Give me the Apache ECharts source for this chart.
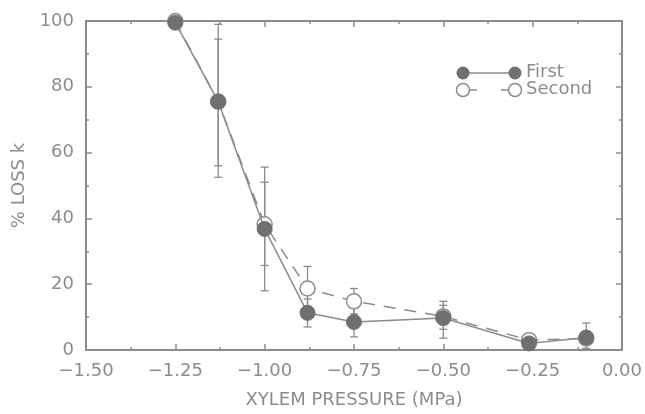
<!DOCTYPE html>
<html>
<head>
<meta charset="utf-8">
<script src="https://cdn.jsdelivr.net/npm/echarts@6/dist/echarts.min.js"></script>
<style>
html, body { margin: 0; padding: 0; background: #fff; }
#chart { width: 645px; height: 414px; }
</style>
</head>
<body>
<div id="chart"></div>
<script>
// pressures (MPa)
const pressure = [-1.25, -1.13, -1.00, -0.88, -0.75, -0.50, -0.26, -0.10];
// first run
const firstLoss = [99.5, 75.5, 36.8, 11.3, 8.5, 9.7, 2.0, 3.8];
const firstLow  = [null, 52.5, 18.0, 7.0, 4.0, 3.6, null, 0.5];
const firstHigh = [null, 99.0, 55.6, 15.5, 13.0, 14.8, null, 8.2];
// second run
const secondLoss = [100, 75.5, 38.2, 18.7, 14.8, 10.2, 3.0, 3.5];
const secondLow  = [null, 56.0, 25.7, 12.0, 11.0, 6.3, null, null];
const secondHigh = [null, 94.5, 51.0, 25.4, 18.7, 13.6, null, null];

const xTicks = { min: -1.5, max: 0, step: 0.25 };
const yTicks = { min: 0, max: 100, step: 20 };

const gray = '#8c8c8c';
const font = 'DejaVu Sans';

function pts(ys) {
  return pressure.map((x, i) => [x, ys[i]]);
}
function bars(low, high) {
  const out = [];
  pressure.forEach((x, i) => {
    if (low[i] != null) out.push([x, low[i], high[i]]);
  });
  return out;
}

function errorItem(params, api) {
  const x = api.value(0);
  const lo = api.coord([x, api.value(1)]);
  const hi = api.coord([x, api.value(2)]);
  const w = 4;
  const st = { stroke: gray, lineWidth: 1.3 };
  return {
    type: 'group',
    children: [
      { type: 'line', shape: { x1: lo[0], y1: lo[1], x2: hi[0], y2: hi[1] }, style: st },
      { type: 'line', shape: { x1: lo[0] - w, y1: lo[1], x2: lo[0] + w, y2: lo[1] }, style: st },
      { type: 'line', shape: { x1: hi[0] - w, y1: hi[1], x2: hi[0] + w, y2: hi[1] }, style: st }
    ]
  };
}

const axisCommon = {
  axisLine: { show: true, onZero: false, lineStyle: { color: gray, width: 2 } },
  axisTick: { show: true, inside: true, length: 6, lineStyle: { color: gray, width: 1.5 } },
  minorTick: { show: true, splitNumber: 2, length: 3, lineStyle: { color: gray, width: 1.5 } },
  splitLine: { show: false }
};

function minusFmt(v) {
  return (v < 0 ? '\u2212' : '') + Math.abs(v).toFixed(2);
}

const chart = echarts.init(document.getElementById('chart'));
chart.setOption({
  animation: false,
  backgroundColor: '#fff',
  grid: { left: 86, right: 22, top: 21, bottom: 62 },
  xAxis: [
    Object.assign({
      type: 'value', position: 'bottom',
      min: xTicks.min, max: xTicks.max, interval: xTicks.step,
      name: 'XYLEM PRESSURE (MPa)', nameLocation: 'middle', nameGap: 41,
      nameTextStyle: { color: gray, fontFamily: font, fontSize: 18 },
      axisLabel: { color: gray, fontFamily: font, fontSize: 18, margin: 12, formatter: minusFmt }
    }, axisCommon),
    Object.assign({
      type: 'value', position: 'top',
      min: xTicks.min, max: xTicks.max, interval: xTicks.step,
      axisLabel: { show: false }
    }, axisCommon)
  ],
  yAxis: [
    Object.assign({
      type: 'value', position: 'left',
      min: yTicks.min, max: yTicks.max, interval: yTicks.step,
      name: '% LOSS k', nameLocation: 'middle', nameGap: 56,
      nameTextStyle: { color: gray, fontFamily: font, fontSize: 18 },
      axisLabel: { color: gray, fontFamily: font, fontSize: 18, margin: 12 }
    }, axisCommon),
    Object.assign({
      type: 'value', position: 'right',
      min: yTicks.min, max: yTicks.max, interval: yTicks.step,
      axisLabel: { show: false }
    }, axisCommon)
  ],
  series: [
    {
      type: 'custom', name: 'secondErr', renderItem: errorItem,
      data: bars(secondLow, secondHigh), z: 1
    },
    {
      type: 'custom', name: 'firstErr', renderItem: errorItem,
      data: bars(firstLow, firstHigh), z: 1
    },
    {
      type: 'line', name: 'Second', data: pts(secondLoss), z: 2,
      symbol: 'circle', symbolSize: 15,
      lineStyle: { color: gray, width: 1.5, type: [12, 9] },
      itemStyle: { color: '#fff', borderColor: gray, borderWidth: 1.5 }
    },
    {
      type: 'line', name: 'First', data: pts(firstLoss), z: 3,
      symbol: 'circle', symbolSize: 15,
      lineStyle: { color: gray, width: 1.5 },
      itemStyle: { color: '#707070', borderColor: '#707070', borderWidth: 1 }
    }
  ],
  graphic: [
    { type: 'line', shape: { x1: 463, y1: 73, x2: 515, y2: 73 }, style: { stroke: gray, lineWidth: 1.5 } },
    { type: 'circle', shape: { cx: 463, cy: 73, r: 6.5 }, style: { fill: '#707070' } },
    { type: 'circle', shape: { cx: 515, cy: 73, r: 6.5 }, style: { fill: '#707070' } },
    { type: 'text', left: 526, top: 63, style: { text: 'First', fill: gray, font: '18px "DejaVu Sans"' } },
    { type: 'line', shape: { x1: 470, y1: 90, x2: 508, y2: 90 }, style: { stroke: gray, lineWidth: 1.5, lineDash: [7, 24] } },
    { type: 'circle', shape: { cx: 463, cy: 90, r: 6.5 }, style: { fill: '#fff', stroke: gray, lineWidth: 1.5 } },
    { type: 'circle', shape: { cx: 515, cy: 90, r: 6.5 }, style: { fill: '#fff', stroke: gray, lineWidth: 1.5 } },
    { type: 'text', left: 526, top: 80, style: { text: 'Second', fill: gray, font: '18px "DejaVu Sans"' } }
  ]
});
</script>
</body>
</html>
